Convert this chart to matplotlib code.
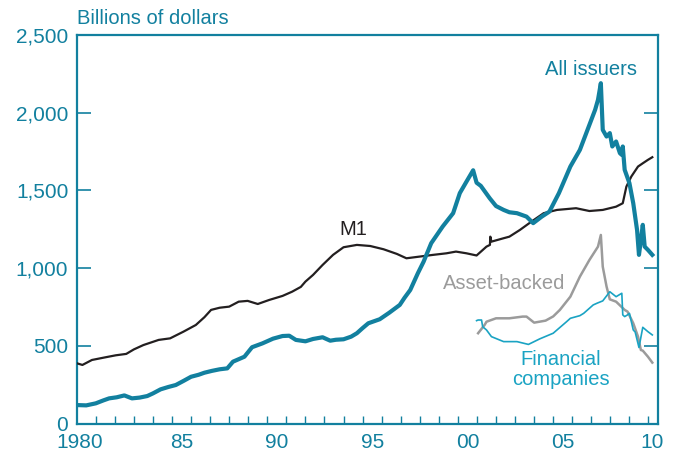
import matplotlib
matplotlib.use('Agg')
import matplotlib.pyplot as plt
from matplotlib.ticker import FixedLocator, FixedFormatter, NullFormatter

plt.rcParams['font.family'] = ['Liberation Sans', 'DejaVu Sans']

TEAL = '#12809f'
CYAN = '#1aa3c3'
GRAY = '#9b9b9b'
BLACK = '#231f20'

# commercial paper outstanding, billions of dollars
all_years = [1980.0, 1980.5, 1981.0, 1981.4, 1981.7, 1982.1, 1982.5, 1982.9, 1983.3, 1983.7,
             1984.0, 1984.4, 1984.8, 1985.2, 1985.6, 1986.0, 1986.4, 1986.7, 1987.1, 1987.5,
             1987.9, 1988.2, 1988.5, 1988.8, 1989.2, 1989.75, 1990.3, 1990.8, 1991.15, 1991.5,
             1992.0, 1992.4, 1992.9, 1993.3, 1993.6, 1994.0, 1994.4, 1994.7, 1995.0, 1995.3,
             1995.9, 1996.4, 1996.95, 1997.2, 1997.5, 1997.9, 1998.2, 1998.6, 1999.2, 1999.75,
             2000.1, 2000.45, 2000.8, 2000.98, 2001.2, 2001.67, 2002.0, 2002.4, 2002.7, 2003.1,
             2003.6, 2003.95, 2004.4, 2004.8, 2005.3, 2005.9, 2006.4, 2006.8, 2007.2, 2007.35,
             2007.5, 2007.6, 2007.8, 2007.97, 2008.1, 2008.3, 2008.5, 2008.6, 2008.65, 2008.75,
             2009.0, 2009.2, 2009.4, 2009.5, 2009.6, 2009.7, 2009.8, 2009.97, 2010.2]
all_issuers = [120, 118, 131, 150, 163, 170, 182, 163, 168, 178,
               195, 221, 236, 249, 275, 302, 315, 328, 340, 350,
               356, 399, 415, 431, 492, 517, 547, 564, 566, 539,
               530, 545, 556, 534, 540, 543, 560, 582, 615, 646,
               672, 714, 764, 810, 860, 968, 1042, 1161, 1268, 1354,
               1483, 1557, 1630, 1550, 1530, 1450, 1400, 1375, 1360, 1354,
               1332, 1290, 1332, 1364, 1483, 1654, 1761, 1890, 2019, 2083,
               2190, 1890, 1847, 1869, 1783, 1815, 1740, 1729, 1783, 1633,
               1547, 1418, 1246, 1086, 1180, 1279, 1139, 1118, 1086]

m1_years = [1980.0, 1980.3, 1980.8, 1981.5, 1982.05, 1982.6, 1983.0, 1983.5, 1984.3, 1984.9,
            1985.6, 1986.25, 1986.7, 1987.05, 1987.5, 1988.0, 1988.5, 1988.97, 1989.5, 1990.1,
            1990.8, 1991.3, 1991.76, 1992.0, 1992.4, 1992.9, 1993.45, 1994.0, 1994.7, 1995.4,
            1996.1, 1996.8, 1997.3, 1998.0, 1998.7, 1999.4, 1999.9, 2000.45, 2000.98, 2001.5,
            2001.68, 2001.7, 2001.76, 2002.4, 2002.7, 2003.25, 2003.86, 2004.5, 2005.2, 2006.2,
            2006.9, 2007.6, 2008.3, 2008.65, 2008.84, 2009.1, 2009.45, 2009.7, 2009.97, 2010.2]
m1 = [389, 378, 410, 427, 440, 449, 478, 506, 539, 549,
      592, 635, 685, 732, 746, 753, 785, 790, 770, 796,
      822, 849, 880, 914, 957, 1021, 1086, 1135, 1150, 1143,
      1122, 1092, 1064, 1075, 1086, 1096, 1107, 1096, 1082, 1139,
      1150, 1203, 1171, 1193, 1203, 1246, 1300, 1354, 1375, 1386,
      1368, 1375, 1396, 1418, 1525, 1590, 1654, 1675, 1697, 1714]

abs_years = [2001.06, 2001.4, 2001.5, 2002.0, 2002.7, 2003.4, 2003.6, 2004.0, 2004.6, 2005.0,
             2005.35, 2005.9, 2006.4, 2006.9, 2007.35, 2007.5, 2007.6, 2007.8, 2007.97, 2008.3,
             2008.75, 2008.9, 2009.2, 2009.45, 2009.6, 2009.7, 2009.97, 2010.2]
asset_backed = [582, 635, 656, 678, 678, 689, 689, 650, 663, 690,
                732, 817, 946, 1053, 1139, 1214, 1010, 882, 800, 785,
                732, 721, 646, 560, 474, 470, 431, 393]

fin_years = [2000.98, 2001.06, 2001.24, 2001.3, 2001.5, 2001.76, 2002.4, 2002.7, 2003.1, 2003.7,
             2004.3, 2005.0, 2005.7, 2005.9, 2006.4, 2006.6, 2007.1, 2007.3, 2007.6, 2007.97,
             2008.3, 2008.6, 2008.65, 2008.75, 2008.9, 2009.0, 2009.2, 2009.3, 2009.5, 2009.7,
             2009.97, 2010.2]
financial = [663, 667, 667, 624, 603, 560, 528, 528, 528, 510,
             546, 582, 656, 678, 695, 710, 764, 775, 790, 849,
             817, 839, 700, 689, 700, 710, 603, 590, 490, 620,
             592, 571]

y_ticks = [0, 500, 1000, 1500, 2000, 2500]
y_labels = ['0', '500', '1,000', '1,500', '2,000', '2,500']
x_label_pos = [1980.14, 1985.5, 1990.5, 1995.5, 2000.5, 2005.5, 2010.2]
x_labels = ['1980', '85', '90', '95', '00', '05', '10']

fig = plt.figure(figsize=(6.74, 4.54), dpi=100)
ax = fig.add_axes([0.1138, 0.0667, 0.8625, 0.8562])

ax.plot(m1_years, m1, color=BLACK, lw=1.6, zorder=3)
ax.plot(all_years, all_issuers, color=TEAL, lw=3.0, zorder=4)
ax.plot(abs_years, asset_backed, color=GRAY, lw=1.8, zorder=3)
ax.plot(fin_years, financial, color=CYAN, lw=1.2, zorder=3)

ax.set_xlim(1980, 2010.5)
ax.set_ylim(0, 2500)

for s in ax.spines.values():
    s.set_color(TEAL)
    s.set_linewidth(1.6)

ax.set_yticks(y_ticks)
ax.set_yticklabels(y_labels)
ax.tick_params(axis='y', direction='in', length=10, width=1.2, color=TEAL,
               labelcolor=TEAL, labelsize=15, pad=6, right=True)

ax.xaxis.set_major_locator(FixedLocator(list(range(1981, 2011))))
ax.xaxis.set_major_formatter(NullFormatter())
ax.xaxis.set_minor_locator(FixedLocator(x_label_pos))
ax.xaxis.set_minor_formatter(FixedFormatter(x_labels))
ax.tick_params(axis='x', which='major', direction='in', length=6, width=1.0, color=TEAL)
ax.tick_params(axis='x', which='minor', length=0, labelcolor=TEAL, labelsize=15, pad=7)

fig.text(77 / 674, 1 - 18 / 454, 'Billions of dollars', color=TEAL, fontsize=14.5,
         ha='left', va='center')
ax.text(2007.0, 2276, 'All issuers', color=TEAL, fontsize=14.5, ha='center', va='center')
ax.text(1994.5, 1246, 'M1', color=BLACK, fontsize=14.5, ha='center', va='center')
ax.text(2002.45, 903, 'Asset-backed', color=GRAY, fontsize=14.5, ha='center', va='center')
ax.text(2005.4, 349, 'Financial\ncompanies', color=CYAN, fontsize=14.5, ha='center',
        va='center', linespacing=1.1)

fig.savefig('out.png', dpi=100)
